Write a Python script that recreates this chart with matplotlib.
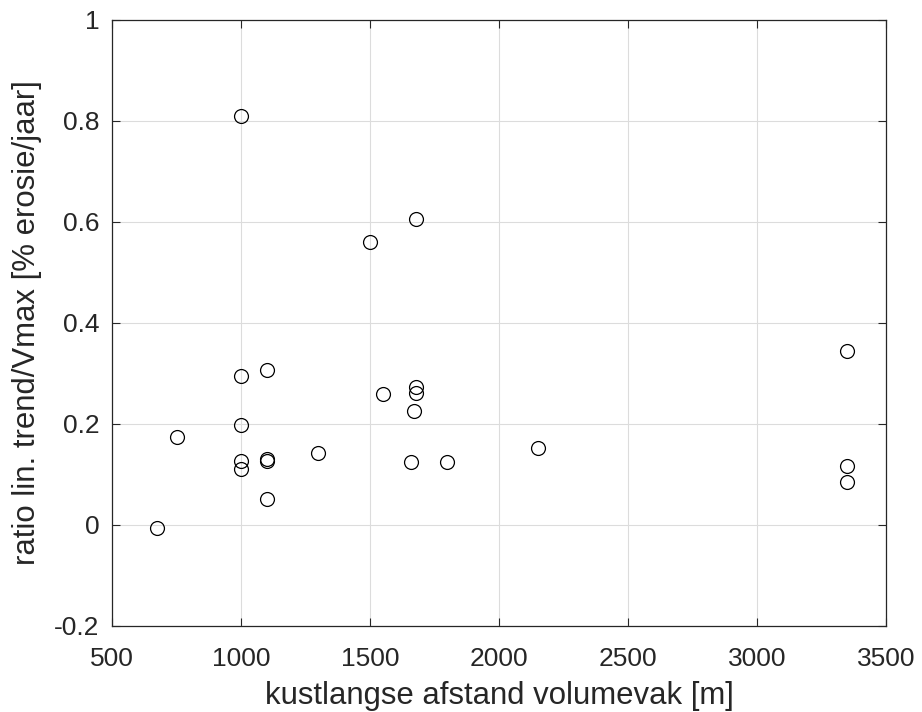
import numpy as np
import matplotlib
matplotlib.use('Agg')
import matplotlib.pyplot as plt

plt.rcParams['font.family'] = ['Liberation Sans', 'DejaVu Sans']

# kustlangse afstand per volumevak [m] en bijbehorende ratio
afstand = [675, 750, 1000, 1000, 1000, 1000, 1000, 1100, 1100, 1100, 1100,
           1300, 1500, 1550, 1680, 1680, 1680, 1670, 1660, 1800, 2150,
           3350, 3350, 3350]
ratio = [-0.005, 0.174, 0.809, 0.294, 0.197, 0.127, 0.110, 0.306, 0.131, 0.127, 0.051,
         0.143, 0.561, 0.259, 0.606, 0.273, 0.261, 0.225, 0.125, 0.125, 0.152,
         0.345, 0.116, 0.086]

xticks = [500, 1000, 1500, 2000, 2500, 3000, 3500]
yticks = [-0.2, 0, 0.2, 0.4, 0.6, 0.8, 1]
yticklabels = ['-0.2', '0', '0.2', '0.4', '0.6', '0.8', '1']

axcol = '#262626'

fig = plt.figure(figsize=(9.22, 7.12), dpi=100)
ax = fig.add_axes([0.1215, 0.1208, 0.8395, 0.8512])

ax.plot(afstand, ratio, 'o', markersize=10, markerfacecolor='none',
        markeredgecolor='black', markeredgewidth=0.9, linestyle='none')

ax.set_xlim(500, 3500)
ax.set_ylim(-0.2, 1)
ax.set_xticks(xticks)
ax.set_yticks(yticks)
ax.set_yticklabels(yticklabels)
ax.grid(True, color='#dcdcdc', linewidth=0.8)
ax.set_axisbelow(True)

ax.tick_params(direction='in', length=6, width=0.8, colors=axcol,
               labelsize=19, top=True, right=True)
ax.tick_params(axis='x', pad=15)
ax.tick_params(axis='y', pad=9)
for s in ax.spines.values():
    s.set_color(axcol)
    s.set_linewidth(0.9)

ax.set_xlabel('kustlangse afstand volumevak [m]', fontsize=22.4, color=axcol, labelpad=7.5)
ax.set_ylabel('ratio lin. trend/Vmax [% erosie/jaar]', fontsize=22.4, color=axcol, labelpad=8.5)

fig.savefig('out.png', dpi=100)
